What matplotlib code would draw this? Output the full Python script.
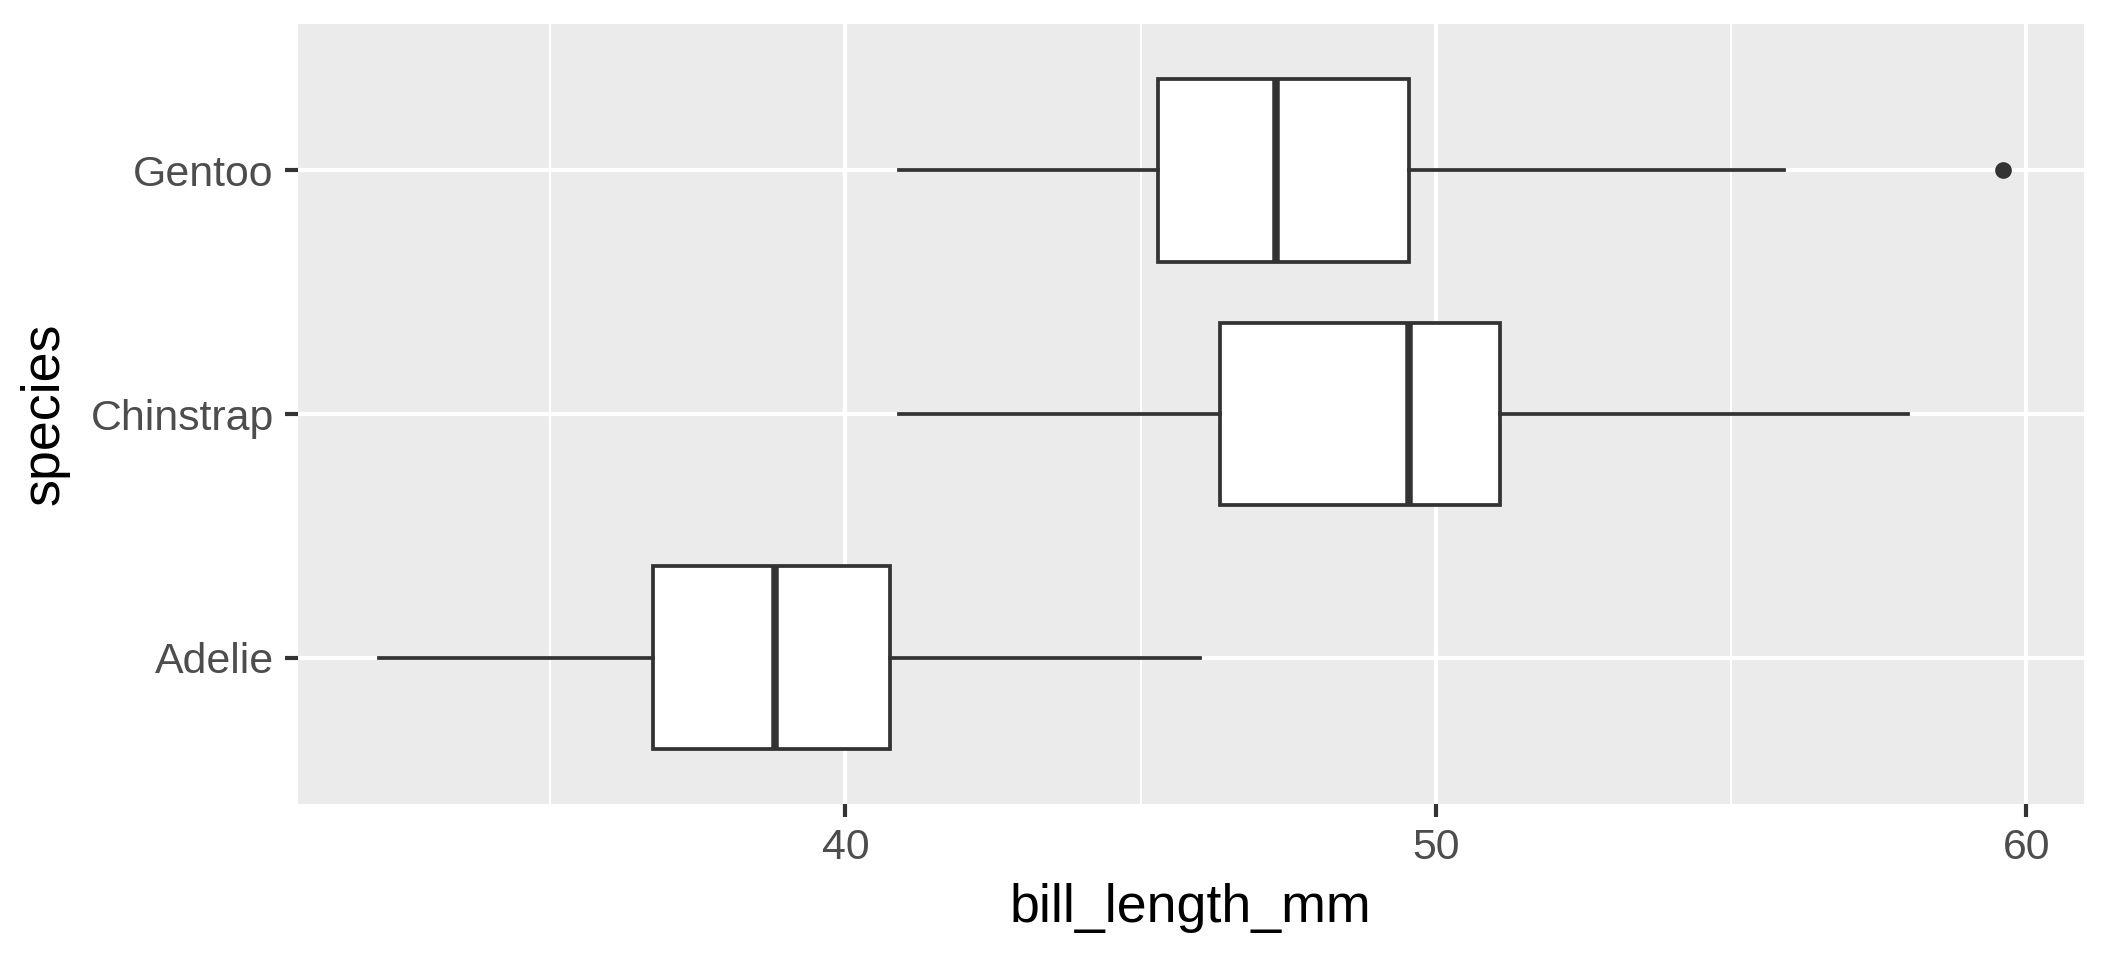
import matplotlib
matplotlib.use("Agg")
import matplotlib.pyplot as plt
from matplotlib.ticker import MultipleLocator

plt.rcParams['font.family'] = ['Liberation Sans', 'DejaVu Sans']

# box stats
species = ["Adelie", "Chinstrap", "Gentoo"]
whislo = [32.1, 40.9, 40.9]
q1 = [36.75, 46.35, 45.3]
med = [38.8, 49.55, 47.3]
q3 = [40.75, 51.08, 49.55]
whishi = [46.0, 58.0, 55.9]
fliers = [[], [], [59.6]]

stats = []
for i in range(len(species)):
    stats.append(dict(label=species[i], whislo=whislo[i], q1=q1[i], med=med[i],
                      q3=q3[i], whishi=whishi[i], fliers=fliers[i]))

fig = plt.figure(figsize=(7.04, 3.2), dpi=300)
ax = fig.add_axes([0.141, 0.1625, 0.8456, 0.8123])
ax.set_facecolor("#EBEBEB")
for s in ax.spines.values():
    s.set_visible(False)

edge = "#333333"
ax.bxp(stats, positions=[1, 2, 3], widths=0.75, orientation="horizontal",
       patch_artist=True, showcaps=False,
       boxprops=dict(facecolor="white", edgecolor=edge, linewidth=0.9),
       whiskerprops=dict(color=edge, linewidth=0.9),
       medianprops=dict(color=edge, linewidth=1.8),
       flierprops=dict(marker="o", markersize=3.0, markerfacecolor=edge,
                       markeredgecolor=edge, linestyle="none"),
       zorder=3)

ax.set_xlim(30.725, 60.975)
ax.set_ylim(0.4, 3.6)
ax.set_yticks([1, 2, 3])
ax.set_yticklabels(species)
ax.xaxis.set_major_locator(MultipleLocator(10))
ax.xaxis.set_minor_locator(MultipleLocator(5))

ax.grid(which="major", color="white", linewidth=1.0)
ax.grid(which="minor", axis="x", color="white", linewidth=0.5)
ax.set_axisbelow(True)

ax.tick_params(axis="both", which="major", length=3.2, width=1.0, color=edge,
               labelsize=10.3, labelcolor="#4D4D4D", pad=2.6)
ax.tick_params(axis="x", which="minor", length=0)

ax.set_xlabel("bill_length_mm", fontsize=12.9, color="black", labelpad=3.5)
ax.set_ylabel("species", fontsize=12.9, color="black", labelpad=5)

fig.savefig("out.png", dpi=300)
